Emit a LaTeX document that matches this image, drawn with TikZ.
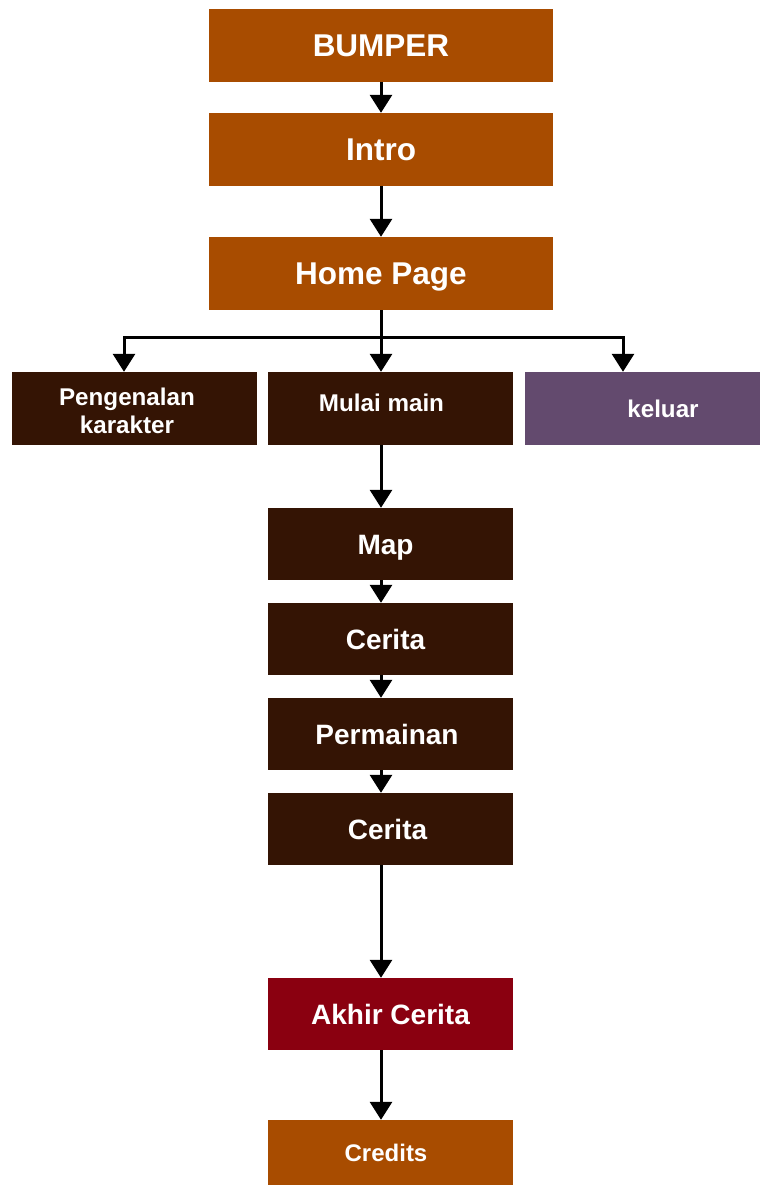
\documentclass[tikz,border=0pt]{standalone}
\usepackage{fontspec}
\setmainfont{Liberation Sans}
\usetikzlibrary{arrows.meta,calc}
\definecolor{boxorange}{HTML}{A84C00}
\definecolor{boxbrown}{HTML}{341404}
\definecolor{boxpurple}{HTML}{634A6E}
\definecolor{boxred}{HTML}{8A0010}
\begin{document}
\begin{tikzpicture}[x=1pt,y=-1pt,
  box/.style={rectangle,inner sep=0pt,text=white},
  topbox/.style={box,fill=boxorange,minimum width=344pt,minimum height=73pt,
    font=\fontsize{31.5}{38}\selectfont\bfseries,text height=22.6pt,text depth=0pt},
  rowbox/.style={box,fill=boxbrown,minimum width=245pt,minimum height=73pt,
    font=\fontsize{24.2}{28}\selectfont\bfseries},
  rowone/.style={rowbox,text height=17.3pt,text depth=0pt},
  chainbox/.style={box,fill=boxbrown,minimum width=245pt,minimum height=72pt,
    font=\fontsize{28}{33}\selectfont\bfseries,text height=20pt,text depth=0pt},
  conn/.style={line width=3pt,black},
  arr/.style={conn,-{Triangle[width=22pt,length=18pt]}}]
\useasboundingbox[fill=white] (0,0) rectangle (760,1185);

\node[topbox] (bumper) at (381,45.5) {BUMPER};
\node[topbox] (intro) at (381,149.5) {Intro};
\node[topbox] (home) at (381,273.5) {Home Page};

\node[rowbox] (peng) at (134.5,408.5)
  {\smash{\raisebox{-11.5pt}{\begin{tabular}{@{}c@{}}Pengenalan\\karakter\end{tabular}}}\kern15pt};
\node[rowone] (mulai) at (390.5,408.5) {\raisebox{6pt}{Mulai main}\kern18pt};
\node[rowone,fill=boxpurple,minimum width=235pt] (keluar) at (642.5,408.5) {\kern41pt keluar};

\node[chainbox] (map) at (390.5,544) {\kern-10pt Map};
\node[chainbox] (cerita1) at (390.5,639) {Cerita\kern10pt};
\node[chainbox] (perm) at (390.5,734) {Permainan\kern7pt};
\node[chainbox] (cerita2) at (390.5,829) {Cerita\kern6pt};
\node[chainbox,fill=boxred] (akhir) at (390.5,1014) {Akhir Cerita};
\node[chainbox,fill=boxorange,minimum height=65pt,font=\fontsize{24}{29}\selectfont\bfseries,text height=17.2pt] (credits) at (390.5,1152.5) {Credits\kern9pt};

\coordinate (split) at (381,337);

\draw[arr] (bumper) -- (intro);
\draw[arr] (intro) -- (home);
\draw[conn] (home.south) -- (split);
\draw[arr] (split) -| ([xshift=-10.5pt]peng.north);
\draw[arr] (split) -| ([xshift=-19.5pt]keluar.north);
\draw[arr] (split) -- (mulai.north -| split);
\draw[arr] (mulai.south -| split) -- (map.north -| split);
\draw[arr] (map.south -| split) -- (cerita1.north -| split);
\draw[arr] (cerita1.south -| split) -- (perm.north -| split);
\draw[arr] (perm.south -| split) -- (cerita2.north -| split);
\draw[arr] (cerita2.south -| split) -- (akhir.north -| split);
\draw[arr] (akhir.south -| split) -- (credits.north -| split);
\end{tikzpicture}
\end{document}
